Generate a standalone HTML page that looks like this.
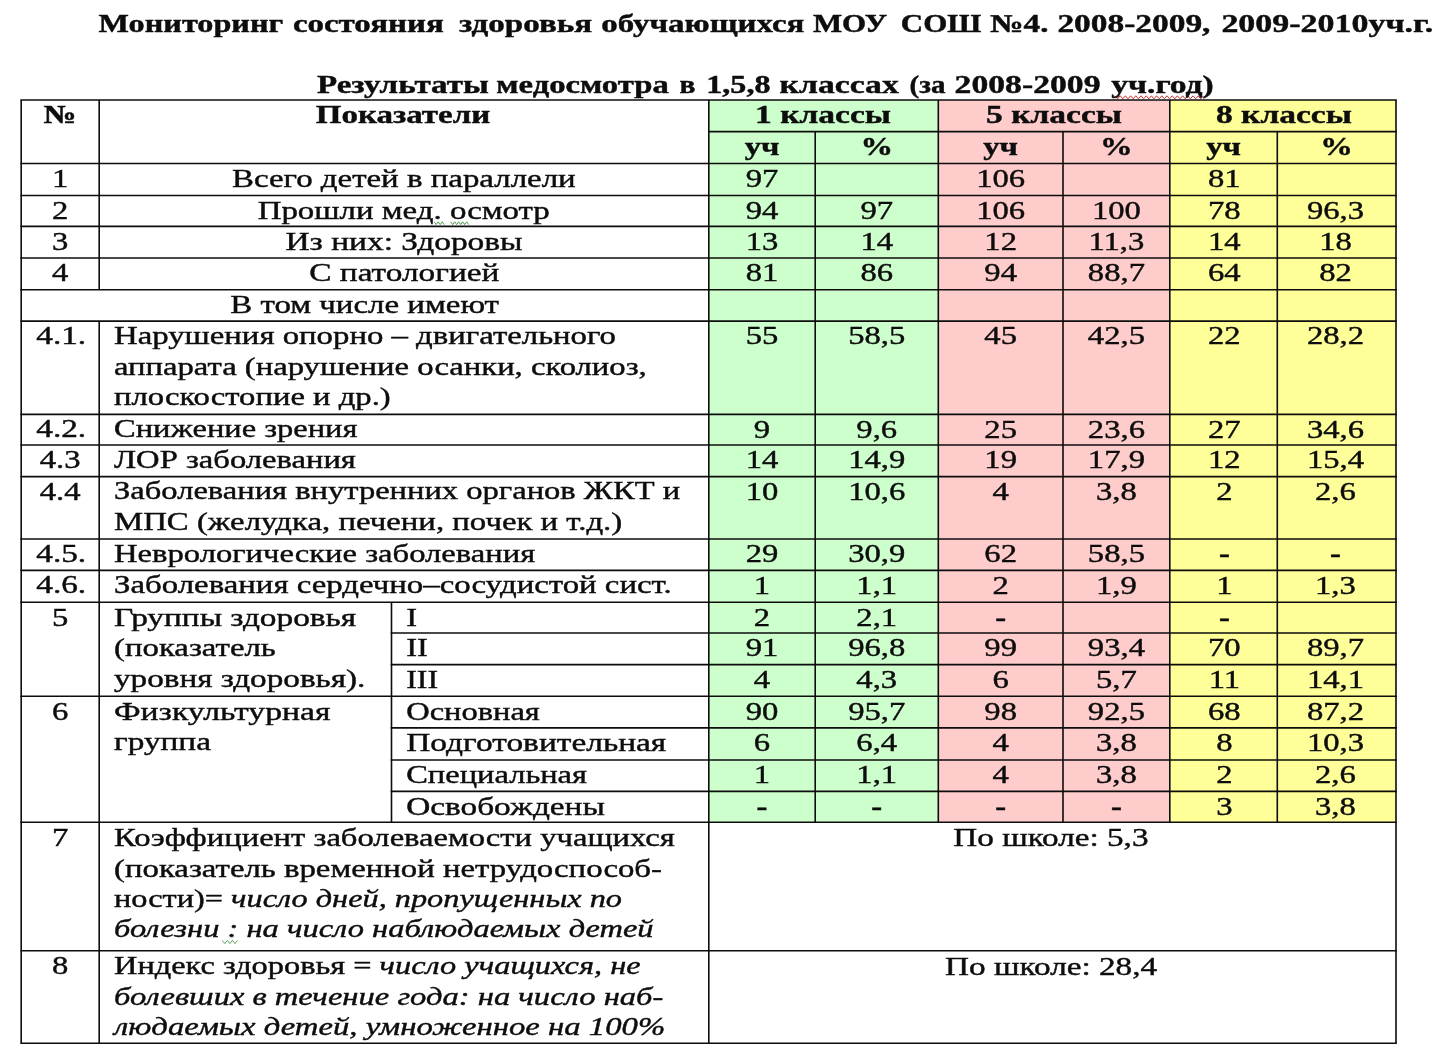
<!DOCTYPE html>
<html><head><meta charset="utf-8"><title>Мониторинг состояния здоровья</title>
<style>
html,body{margin:0;padding:0;background:#fff;}
body{width:1455px;height:1051px;position:relative;overflow:hidden;}
svg{position:absolute;left:0;top:0;}
svg line{stroke:#0c0c0c;stroke-width:1.6;}
.tx{filter:blur(0.35px);}
svg text{font-family:"Liberation Serif",serif;font-size:26px;fill:#0d0d0d;stroke:#0d0d0d;stroke-width:0.42px;white-space:pre;}
</style></head><body>
<svg width="1455" height="1051" viewBox="0 0 1455 1051">
<g class="gl">
<rect x="708.8" y="100.0" width="229.5" height="722.3" fill="#ccffcc"/>
<rect x="938.3" y="100.0" width="231.5" height="722.3" fill="#ffcccc"/>
<rect x="1169.8" y="100.0" width="226.2" height="722.3" fill="#ffff99"/>
<line x1="20.4" y1="100.0" x2="1396.8" y2="100.0"/>
<line x1="708.0" y1="131.6" x2="1396.8" y2="131.6"/>
<line x1="20.4" y1="163.5" x2="1396.8" y2="163.5"/>
<line x1="20.4" y1="195.5" x2="1396.8" y2="195.5"/>
<line x1="20.4" y1="226.4" x2="1396.8" y2="226.4"/>
<line x1="20.4" y1="258.0" x2="1396.8" y2="258.0"/>
<line x1="20.4" y1="289.7" x2="1396.8" y2="289.7"/>
<line x1="20.4" y1="321.1" x2="1396.8" y2="321.1"/>
<line x1="20.4" y1="414.4" x2="1396.8" y2="414.4"/>
<line x1="20.4" y1="445.0" x2="1396.8" y2="445.0"/>
<line x1="20.4" y1="476.6" x2="1396.8" y2="476.6"/>
<line x1="20.4" y1="539.0" x2="1396.8" y2="539.0"/>
<line x1="20.4" y1="570.4" x2="1396.8" y2="570.4"/>
<line x1="20.4" y1="602.3" x2="1396.8" y2="602.3"/>
<line x1="390.7" y1="633.0" x2="1396.8" y2="633.0"/>
<line x1="390.7" y1="664.6" x2="1396.8" y2="664.6"/>
<line x1="20.4" y1="696.2" x2="1396.8" y2="696.2"/>
<line x1="390.7" y1="727.9" x2="1396.8" y2="727.9"/>
<line x1="390.7" y1="760.0" x2="1396.8" y2="760.0"/>
<line x1="390.7" y1="791.4" x2="1396.8" y2="791.4"/>
<line x1="20.4" y1="822.3" x2="1396.8" y2="822.3"/>
<line x1="20.4" y1="950.8" x2="1396.8" y2="950.8"/>
<line x1="20.4" y1="1043.3" x2="1396.8" y2="1043.3"/>
<line x1="21.2" y1="100.0" x2="21.2" y2="1043.3"/>
<line x1="1396.0" y1="100.0" x2="1396.0" y2="1043.3"/>
<line x1="708.8" y1="100.0" x2="708.8" y2="1043.3"/>
<line x1="99.2" y1="100.0" x2="99.2" y2="289.7"/>
<line x1="99.2" y1="321.1" x2="99.2" y2="1043.3"/>
<line x1="938.3" y1="100.0" x2="938.3" y2="822.3"/>
<line x1="1169.8" y1="100.0" x2="1169.8" y2="822.3"/>
<line x1="815.2" y1="131.6" x2="815.2" y2="822.3"/>
<line x1="1063.0" y1="131.6" x2="1063.0" y2="822.3"/>
<line x1="1277.3" y1="131.6" x2="1277.3" y2="822.3"/>
<line x1="391.5" y1="602.3" x2="391.5" y2="822.3"/>
<polyline points="434.2,221.8 436.2,224.6 438.2,221.8 440.2,224.6 442.2,221.8 444.2,224.6" fill="none" stroke="#3f8f3f" stroke-width="0.9"/>
<polyline points="450.7,221.8 452.7,224.6 454.7,221.8 456.7,224.6 458.7,221.8 460.7,224.6 462.7,221.8 464.7,224.6 466.7,221.8 468.7,224.6" fill="none" stroke="#3f8f3f" stroke-width="0.9"/>
<polyline points="1115.0,95.8 1117.6,98.8 1120.2,95.8 1122.8,98.8 1125.4,95.8 1128.0,98.8 1130.6,95.8 1133.2,98.8 1135.8,95.8 1138.4,98.8 1141.0,95.8 1143.6,98.8 1146.2,95.8 1148.8,98.8 1151.4,95.8 1154.0,98.8 1156.6,95.8 1159.2,98.8 1161.8,95.8 1164.4,98.8 1167.0,95.8 1169.6,98.8 1172.2,95.8 1174.8,98.8 1177.4,95.8 1180.0,98.8 1182.6,95.8 1185.2,98.8 1187.8,95.8 1190.4,98.8 1193.0,95.8 1195.6,98.8 1198.2,95.8 1200.8,98.8 1203.4,95.8" fill="none" stroke="#cc3333" stroke-width="1"/>
<polyline points="222.2,940.4 224.8,943.6 227.3,940.4 229.9,943.6 232.4,940.4 235.0,943.6 237.5,940.4" fill="none" stroke="#4f9a4f" stroke-width="0.9"/>
</g>
<g class="tx">
<text transform="translate(98.60 32.00) scale(1.2649 1)" text-anchor="start" style="font-size:25.5px"><tspan font-weight="bold">Мониторинг</tspan></text>
<text transform="translate(292.90 32.00) scale(1.2919 1)" text-anchor="start" style="font-size:25.5px"><tspan font-weight="bold">состояния</tspan></text>
<text transform="translate(458.90 32.00) scale(1.2970 1)" text-anchor="start" style="font-size:25.5px"><tspan font-weight="bold">здоровья</tspan></text>
<text transform="translate(601.30 32.00) scale(1.2923 1)" text-anchor="start" style="font-size:25.5px"><tspan font-weight="bold">обучающихся</tspan></text>
<text transform="translate(812.90 32.00) scale(1.2145 1)" text-anchor="start" style="font-size:25.5px"><tspan font-weight="bold">МОУ</tspan></text>
<text transform="translate(900.80 32.00) scale(1.2152 1)" text-anchor="start" style="font-size:25.5px"><tspan font-weight="bold">СОШ</tspan></text>
<text transform="translate(990.30 32.00) scale(1.3008 1)" text-anchor="start" style="font-size:25.5px"><tspan font-weight="bold">№4.</tspan></text>
<text transform="translate(1057.40 32.00) scale(1.3101 1)" text-anchor="start" style="font-size:25.5px"><tspan font-weight="bold">2008-2009,</tspan></text>
<text transform="translate(1221.40 32.00) scale(1.3315 1)" text-anchor="start" style="font-size:25.5px"><tspan font-weight="bold">2009-2010уч.г.</tspan></text>
<text transform="translate(316.90 92.60) scale(1.2967 1)" text-anchor="start" style="font-size:25.5px"><tspan font-weight="bold">Результаты</tspan></text>
<text transform="translate(496.30 92.60) scale(1.2823 1)" text-anchor="start" style="font-size:25.5px"><tspan font-weight="bold">медосмотра</tspan></text>
<text transform="translate(679.60 92.60) scale(1.1552 1)" text-anchor="start" style="font-size:25.5px"><tspan font-weight="bold">в</tspan></text>
<text transform="translate(706.30 92.60) scale(1.2590 1)" text-anchor="start" style="font-size:25.5px"><tspan font-weight="bold">1,5,8</tspan></text>
<text transform="translate(779.60 92.60) scale(1.3217 1)" text-anchor="start" style="font-size:25.5px"><tspan font-weight="bold">классах</tspan></text>
<text transform="translate(909.60 92.60) scale(1.1403 1)" text-anchor="start" style="font-size:25.5px"><tspan font-weight="bold">(за</tspan></text>
<text transform="translate(954.60 92.60) scale(1.3205 1)" text-anchor="start" style="font-size:25.5px"><tspan font-weight="bold">2008-2009</tspan></text>
<text transform="translate(1111.30 92.60) scale(1.3166 1)" text-anchor="start" style="font-size:25.5px"><tspan font-weight="bold">уч.год)</tspan></text>
<text transform="translate(60.20 123.30) scale(1.2550 1)" text-anchor="middle"><tspan font-weight="bold">№</tspan></text>
<text transform="translate(403.00 123.30) scale(1.2701 1)" text-anchor="middle"><tspan font-weight="bold">Показатели</tspan></text>
<text transform="translate(823.05 123.30) scale(1.2889 1)" text-anchor="middle"><tspan font-weight="bold">1 классы</tspan></text>
<text transform="translate(1054.05 123.30) scale(1.2889 1)" text-anchor="middle"><tspan font-weight="bold">5 классы</tspan></text>
<text transform="translate(1283.90 123.30) scale(1.2889 1)" text-anchor="middle"><tspan font-weight="bold">8 классы</tspan></text>
<text transform="translate(762.00 154.90) scale(1.2550 1)" text-anchor="middle"><tspan font-weight="bold">уч</tspan></text>
<text transform="translate(876.75 154.90) scale(1.2550 1)" text-anchor="middle"><tspan font-weight="bold">%</tspan></text>
<text transform="translate(1000.65 154.90) scale(1.2550 1)" text-anchor="middle"><tspan font-weight="bold">уч</tspan></text>
<text transform="translate(1116.40 154.90) scale(1.2550 1)" text-anchor="middle"><tspan font-weight="bold">%</tspan></text>
<text transform="translate(1223.55 154.90) scale(1.2550 1)" text-anchor="middle"><tspan font-weight="bold">уч</tspan></text>
<text transform="translate(1336.65 154.90) scale(1.2550 1)" text-anchor="middle"><tspan font-weight="bold">%</tspan></text>
<text transform="translate(60.20 186.80) scale(1.2550 1)" text-anchor="middle">1</text>
<text transform="translate(403.80 186.80) scale(1.2657 1)" text-anchor="middle">Всего детей в параллели</text>
<text transform="translate(762.00 186.80) scale(1.2550 1)" text-anchor="middle">97</text>
<text transform="translate(1000.65 186.80) scale(1.2550 1)" text-anchor="middle">106</text>
<text transform="translate(1224.35 186.80) scale(1.2550 1)" text-anchor="middle">81</text>
<text transform="translate(60.20 218.80) scale(1.2550 1)" text-anchor="middle">2</text>
<text transform="translate(403.70 218.80) scale(1.2650 1)" text-anchor="middle">Прошли мед. осмотр</text>
<text transform="translate(762.00 218.80) scale(1.2550 1)" text-anchor="middle">94</text>
<text transform="translate(876.75 218.80) scale(1.2550 1)" text-anchor="middle">97</text>
<text transform="translate(1000.65 218.80) scale(1.2550 1)" text-anchor="middle">106</text>
<text transform="translate(1116.40 218.80) scale(1.2550 1)" text-anchor="middle">100</text>
<text transform="translate(1224.35 218.80) scale(1.2550 1)" text-anchor="middle">78</text>
<text transform="translate(1335.45 218.80) scale(1.2550 1)" text-anchor="middle">96,3</text>
<text transform="translate(60.20 249.70) scale(1.2550 1)" text-anchor="middle">3</text>
<text transform="translate(404.00 249.70) scale(1.2864 1)" text-anchor="middle">Из них: Здоровы</text>
<text transform="translate(762.00 249.70) scale(1.2550 1)" text-anchor="middle">13</text>
<text transform="translate(876.75 249.70) scale(1.2550 1)" text-anchor="middle">14</text>
<text transform="translate(1000.65 249.70) scale(1.2550 1)" text-anchor="middle">12</text>
<text transform="translate(1116.40 249.70) scale(1.2550 1)" text-anchor="middle">11,3</text>
<text transform="translate(1224.35 249.70) scale(1.2550 1)" text-anchor="middle">14</text>
<text transform="translate(1335.45 249.70) scale(1.2550 1)" text-anchor="middle">18</text>
<text transform="translate(60.20 281.30) scale(1.2550 1)" text-anchor="middle">4</text>
<text transform="translate(404.30 281.30) scale(1.2826 1)" text-anchor="middle">С патологией</text>
<text transform="translate(762.00 281.30) scale(1.2550 1)" text-anchor="middle">81</text>
<text transform="translate(876.75 281.30) scale(1.2550 1)" text-anchor="middle">86</text>
<text transform="translate(1000.65 281.30) scale(1.2550 1)" text-anchor="middle">94</text>
<text transform="translate(1116.40 281.30) scale(1.2550 1)" text-anchor="middle">88,7</text>
<text transform="translate(1224.35 281.30) scale(1.2550 1)" text-anchor="middle">64</text>
<text transform="translate(1335.45 281.30) scale(1.2550 1)" text-anchor="middle">82</text>
<text transform="translate(364.60 313.00) scale(1.2663 1)" text-anchor="middle">В том числе имеют</text>
<text transform="translate(61.20 344.00) scale(1.2801 1)" text-anchor="middle">4.1.</text>
<text transform="translate(114.00 344.40) scale(1.2608 1)" text-anchor="start">Нарушения опорно – двигательного</text>
<text transform="translate(114.00 375.20) scale(1.2571 1)" text-anchor="start">аппарата (нарушение осанки, сколиоз,</text>
<text transform="translate(114.00 405.30) scale(1.2563 1)" text-anchor="start">плоскостопие и др.)</text>
<text transform="translate(762.00 344.40) scale(1.2550 1)" text-anchor="middle">55</text>
<text transform="translate(876.75 344.40) scale(1.2550 1)" text-anchor="middle">58,5</text>
<text transform="translate(1000.65 344.40) scale(1.2550 1)" text-anchor="middle">45</text>
<text transform="translate(1116.40 344.40) scale(1.2550 1)" text-anchor="middle">42,5</text>
<text transform="translate(1224.35 344.40) scale(1.2550 1)" text-anchor="middle">22</text>
<text transform="translate(1335.45 344.40) scale(1.2550 1)" text-anchor="middle">28,2</text>
<text transform="translate(61.20 437.30) scale(1.2801 1)" text-anchor="middle">4.2.</text>
<text transform="translate(114.00 437.20) scale(1.2501 1)" text-anchor="start">Снижение зрения</text>
<text transform="translate(762.00 437.70) scale(1.2550 1)" text-anchor="middle">9</text>
<text transform="translate(876.75 437.70) scale(1.2550 1)" text-anchor="middle">9,6</text>
<text transform="translate(1000.65 437.70) scale(1.2550 1)" text-anchor="middle">25</text>
<text transform="translate(1116.40 437.70) scale(1.2550 1)" text-anchor="middle">23,6</text>
<text transform="translate(1224.35 437.70) scale(1.2550 1)" text-anchor="middle">27</text>
<text transform="translate(1335.45 437.70) scale(1.2550 1)" text-anchor="middle">34,6</text>
<text transform="translate(60.20 467.90) scale(1.2550 1)" text-anchor="middle">4.3</text>
<text transform="translate(114.00 467.80) scale(1.2545 1)" text-anchor="start">ЛОР заболевания</text>
<text transform="translate(762.00 468.30) scale(1.2550 1)" text-anchor="middle">14</text>
<text transform="translate(876.75 468.30) scale(1.2550 1)" text-anchor="middle">14,9</text>
<text transform="translate(1000.65 468.30) scale(1.2550 1)" text-anchor="middle">19</text>
<text transform="translate(1116.40 468.30) scale(1.2550 1)" text-anchor="middle">17,9</text>
<text transform="translate(1224.35 468.30) scale(1.2550 1)" text-anchor="middle">12</text>
<text transform="translate(1335.45 468.30) scale(1.2550 1)" text-anchor="middle">15,4</text>
<text transform="translate(60.20 499.50) scale(1.2550 1)" text-anchor="middle">4.4</text>
<text transform="translate(114.00 499.40) scale(1.2526 1)" text-anchor="start">Заболевания внутренних органов ЖКТ и</text>
<text transform="translate(114.00 529.90) scale(1.2620 1)" text-anchor="start">МПС (желудка, печени, почек и т.д.)</text>
<text transform="translate(762.00 499.90) scale(1.2550 1)" text-anchor="middle">10</text>
<text transform="translate(876.75 499.90) scale(1.2550 1)" text-anchor="middle">10,6</text>
<text transform="translate(1000.65 499.90) scale(1.2550 1)" text-anchor="middle">4</text>
<text transform="translate(1116.40 499.90) scale(1.2550 1)" text-anchor="middle">3,8</text>
<text transform="translate(1224.35 499.90) scale(1.2550 1)" text-anchor="middle">2</text>
<text transform="translate(1335.45 499.90) scale(1.2550 1)" text-anchor="middle">2,6</text>
<text transform="translate(61.20 561.90) scale(1.2801 1)" text-anchor="middle">4.5.</text>
<text transform="translate(114.00 561.80) scale(1.2549 1)" text-anchor="start">Неврологические заболевания</text>
<text transform="translate(762.00 562.30) scale(1.2550 1)" text-anchor="middle">29</text>
<text transform="translate(876.75 562.30) scale(1.2550 1)" text-anchor="middle">30,9</text>
<text transform="translate(1000.65 562.30) scale(1.2550 1)" text-anchor="middle">62</text>
<text transform="translate(1116.40 562.30) scale(1.2550 1)" text-anchor="middle">58,5</text>
<text transform="translate(1224.35 562.30) scale(1.2550 1)" text-anchor="middle"><tspan font-weight="bold">-</tspan></text>
<text transform="translate(1335.45 562.30) scale(1.2550 1)" text-anchor="middle"><tspan font-weight="bold">-</tspan></text>
<text transform="translate(61.20 593.30) scale(1.2801 1)" text-anchor="middle">4.6.</text>
<text transform="translate(114.00 593.20) scale(1.2630 1)" text-anchor="start">Заболевания сердечно–сосудистой сист.</text>
<text transform="translate(762.00 593.70) scale(1.2550 1)" text-anchor="middle">1</text>
<text transform="translate(876.75 593.70) scale(1.2550 1)" text-anchor="middle">1,1</text>
<text transform="translate(1000.65 593.70) scale(1.2550 1)" text-anchor="middle">2</text>
<text transform="translate(1116.40 593.70) scale(1.2550 1)" text-anchor="middle">1,9</text>
<text transform="translate(1224.35 593.70) scale(1.2550 1)" text-anchor="middle">1</text>
<text transform="translate(1335.45 593.70) scale(1.2550 1)" text-anchor="middle">1,3</text>
<text transform="translate(60.20 625.60) scale(1.2550 1)" text-anchor="middle">5</text>
<text transform="translate(114.00 625.90) scale(1.2812 1)" text-anchor="start">Группы здоровья</text>
<text transform="translate(114.00 656.40) scale(1.2620 1)" text-anchor="start">(показатель</text>
<text transform="translate(114.00 687.10) scale(1.2767 1)" text-anchor="start">уровня здоровья).</text>
<text transform="translate(406.20 625.60) scale(1.2550 1)" text-anchor="start">I</text>
<text transform="translate(406.20 656.30) scale(1.2550 1)" text-anchor="start">II</text>
<text transform="translate(406.20 687.90) scale(1.2287 1)" text-anchor="start">III</text>
<text transform="translate(762.00 625.60) scale(1.2550 1)" text-anchor="middle">2</text>
<text transform="translate(876.75 625.60) scale(1.2550 1)" text-anchor="middle">2,1</text>
<text transform="translate(1000.65 625.60) scale(1.2550 1)" text-anchor="middle"><tspan font-weight="bold">-</tspan></text>
<text transform="translate(1224.35 625.60) scale(1.2550 1)" text-anchor="middle"><tspan font-weight="bold">-</tspan></text>
<text transform="translate(762.00 656.30) scale(1.2550 1)" text-anchor="middle">91</text>
<text transform="translate(876.75 656.30) scale(1.2550 1)" text-anchor="middle">96,8</text>
<text transform="translate(1000.65 656.30) scale(1.2550 1)" text-anchor="middle">99</text>
<text transform="translate(1116.40 656.30) scale(1.2550 1)" text-anchor="middle">93,4</text>
<text transform="translate(1224.35 656.30) scale(1.2550 1)" text-anchor="middle">70</text>
<text transform="translate(1335.45 656.30) scale(1.2550 1)" text-anchor="middle">89,7</text>
<text transform="translate(762.00 687.90) scale(1.2550 1)" text-anchor="middle">4</text>
<text transform="translate(876.75 687.90) scale(1.2550 1)" text-anchor="middle">4,3</text>
<text transform="translate(1000.65 687.90) scale(1.2550 1)" text-anchor="middle">6</text>
<text transform="translate(1116.40 687.90) scale(1.2550 1)" text-anchor="middle">5,7</text>
<text transform="translate(1224.35 687.90) scale(1.2550 1)" text-anchor="middle">11</text>
<text transform="translate(1335.45 687.90) scale(1.2550 1)" text-anchor="middle">14,1</text>
<text transform="translate(60.20 719.50) scale(1.2550 1)" text-anchor="middle">6</text>
<text transform="translate(114.00 719.60) scale(1.2955 1)" text-anchor="start">Физкультурная</text>
<text transform="translate(114.00 749.80) scale(1.2818 1)" text-anchor="start">группа</text>
<text transform="translate(406.20 719.50) scale(1.2497 1)" text-anchor="start">Основная</text>
<text transform="translate(406.20 751.20) scale(1.2859 1)" text-anchor="start">Подготовительная</text>
<text transform="translate(406.20 783.30) scale(1.2501 1)" text-anchor="start">Специальная</text>
<text transform="translate(406.20 814.70) scale(1.2811 1)" text-anchor="start">Освобождены</text>
<text transform="translate(762.00 719.50) scale(1.2550 1)" text-anchor="middle">90</text>
<text transform="translate(876.75 719.50) scale(1.2550 1)" text-anchor="middle">95,7</text>
<text transform="translate(1000.65 719.50) scale(1.2550 1)" text-anchor="middle">98</text>
<text transform="translate(1116.40 719.50) scale(1.2550 1)" text-anchor="middle">92,5</text>
<text transform="translate(1224.35 719.50) scale(1.2550 1)" text-anchor="middle">68</text>
<text transform="translate(1335.45 719.50) scale(1.2550 1)" text-anchor="middle">87,2</text>
<text transform="translate(762.00 751.20) scale(1.2550 1)" text-anchor="middle">6</text>
<text transform="translate(876.75 751.20) scale(1.2550 1)" text-anchor="middle">6,4</text>
<text transform="translate(1000.65 751.20) scale(1.2550 1)" text-anchor="middle">4</text>
<text transform="translate(1116.40 751.20) scale(1.2550 1)" text-anchor="middle">3,8</text>
<text transform="translate(1224.35 751.20) scale(1.2550 1)" text-anchor="middle">8</text>
<text transform="translate(1335.45 751.20) scale(1.2550 1)" text-anchor="middle">10,3</text>
<text transform="translate(762.00 783.30) scale(1.2550 1)" text-anchor="middle">1</text>
<text transform="translate(876.75 783.30) scale(1.2550 1)" text-anchor="middle">1,1</text>
<text transform="translate(1000.65 783.30) scale(1.2550 1)" text-anchor="middle">4</text>
<text transform="translate(1116.40 783.30) scale(1.2550 1)" text-anchor="middle">3,8</text>
<text transform="translate(1224.35 783.30) scale(1.2550 1)" text-anchor="middle">2</text>
<text transform="translate(1335.45 783.30) scale(1.2550 1)" text-anchor="middle">2,6</text>
<text transform="translate(762.00 814.70) scale(1.2550 1)" text-anchor="middle"><tspan font-weight="bold">-</tspan></text>
<text transform="translate(876.75 814.70) scale(1.2550 1)" text-anchor="middle"><tspan font-weight="bold">-</tspan></text>
<text transform="translate(1000.65 814.70) scale(1.2550 1)" text-anchor="middle"><tspan font-weight="bold">-</tspan></text>
<text transform="translate(1116.40 814.70) scale(1.2550 1)" text-anchor="middle"><tspan font-weight="bold">-</tspan></text>
<text transform="translate(1224.35 814.70) scale(1.2550 1)" text-anchor="middle">3</text>
<text transform="translate(1335.45 814.70) scale(1.2550 1)" text-anchor="middle">3,8</text>
<text transform="translate(60.20 845.60) scale(1.2550 1)" text-anchor="middle">7</text>
<text transform="translate(114.00 845.90) scale(1.2551 1)" text-anchor="start">Коэффициент заболеваемости учащихся</text>
<text transform="translate(114.00 876.90) scale(1.2620 1)" text-anchor="start">(показатель временной нетрудоспособ-</text>
<text transform="translate(114.00 907.30) scale(1.2433 1)" text-anchor="start">ности)= <tspan font-style="italic">число дней, пропущенных по</tspan></text>
<text transform="translate(114.00 936.80) scale(1.2506 1)" text-anchor="start"><tspan font-style="italic">болезни : на число наблюдаемых детей</tspan></text>
<text transform="translate(1050.90 845.70) scale(1.2763 1)" text-anchor="middle">По школе: 5,3</text>
<text transform="translate(60.20 974.10) scale(1.2550 1)" text-anchor="middle">8</text>
<text transform="translate(114.00 974.40) scale(1.2455 1)" text-anchor="start">Индекс здоровья = <tspan font-style="italic">число учащихся, не</tspan></text>
<text transform="translate(114.00 1004.50) scale(1.2531 1)" text-anchor="start"><tspan font-style="italic">болевших в течение года: на число наб-</tspan></text>
<text transform="translate(114.00 1034.70) scale(1.2593 1)" text-anchor="start"><tspan font-style="italic">людаемых детей, умноженное на 100%</tspan></text>
<text transform="translate(1051.10 974.60) scale(1.2776 1)" text-anchor="middle">По школе: 28,4</text>
</g>
</svg>
</body></html>
